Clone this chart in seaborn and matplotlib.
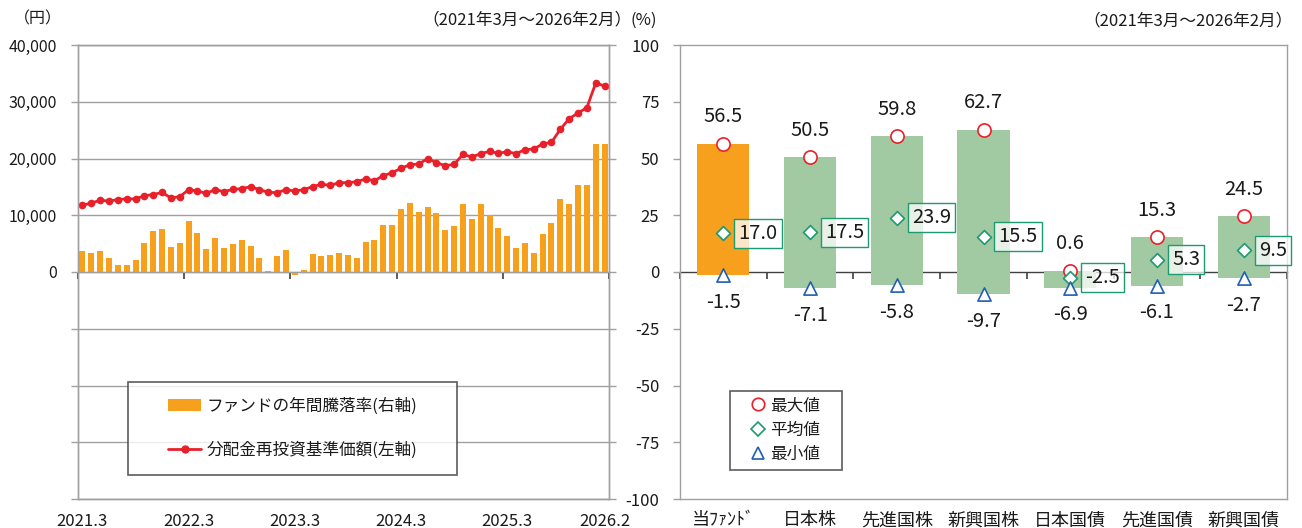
import numpy as np
import pandas as pd
import matplotlib
matplotlib.use("Agg")
import matplotlib.pyplot as plt
import seaborn as sns
from matplotlib.lines import Line2D
from matplotlib.patches import Patch
from matplotlib.ticker import FuncFormatter

# ---------------- data ----------------
months = [f"{2021 + (m + 2) // 12}.{(m + 2) % 12 + 1}" for m in range(60)]

annual_return = [9.4, 8.5, 9.4, 6.3, 3.2, 3.2, 5.4, 12.9, 18.2, 19.1,
                 11.2, 12.9, 22.6, 17.3, 10.3, 15.1, 10.7, 12.5, 14.2, 11.6,
                 6.3, 0.6, 7.2, 9.8, -1.5, 1.0, 8.1, 7.2, 7.6, 8.5,
                 7.6, 6.3, 13.4, 14.2, 20.9, 20.9, 27.9, 30.5, 26.6, 28.8,
                 26.1, 18.6, 20.4, 30.1, 23.5, 30.1, 25.3, 19.5, 16.0, 10.7,
                 12.9, 8.5, 16.9, 21.7, 32.3, 30.1, 38.5, 38.5, 56.5, 56.5]

nav = [11750, 12160, 12630, 12510, 12750, 12920, 12860, 13450, 13630, 14040,
       13040, 13280, 14510, 14270, 13860, 14510, 14160, 14570, 14680, 15040,
       14510, 14040, 13980, 14510, 14270, 14510, 15040, 15450, 15270, 15740,
       15740, 15920, 16390, 16090, 16980, 17500, 18270, 18910, 19030, 19970,
       19270, 18740, 18970, 20730, 20260, 20850, 21260, 20910, 21200, 20850,
       21560, 21670, 22560, 22850, 25140, 27020, 28020, 28960, 33300, 32780]

x_tick_labels = ["2021.3", "2022.3", "2023.3", "2024.3", "2025.3", "2026.2"]

categories = ["当ﾌｧﾝﾄﾞ", "日本株", "先進国株", "新興国株", "日本国債", "先進国債", "新興国債"]
max_vals = [56.5, 50.5, 59.8, 62.7, 0.6, 15.3, 24.5]
avg_vals = [17.0, 17.5, 23.9, 15.5, -2.5, 5.3, 9.5]
min_vals = [-1.5, -7.1, -5.8, -9.7, -6.9, -6.1, -2.7]

# ---------------- style ----------------
ORANGE = "#F6A01E"
GREEN_BAR = "#A2CAA2"
RED = "#E8202A"
RED_M = "#E8202A"
GREEN_M = "#1E9A70"
BLUE_M = "#1F5FB4"
GRAY = "#A0A0A0"
DARK = "#404040"
TXT = "#1a1a1a"

sns.set_theme(style="white", rc={"axes.edgecolor": GRAY, "axes.linewidth": 1.0,
                                 "text.color": TXT, "xtick.color": GRAY, "ytick.color": GRAY,
                                 "xtick.labelcolor": TXT, "ytick.labelcolor": TXT})
plt.rcParams['font.family'] = ['Noto Sans CJK JP', 'DejaVu Sans']
plt.rcParams['axes.unicode_minus'] = False

W, H = 1302, 528
fig = plt.figure(figsize=(W / 100, H / 100), dpi=100)
axL = fig.add_axes([78 / W, 29 / H, 531 / W, 454 / H])
axB = axL.twinx()
axR = fig.add_axes([680 / W, 29 / H, 607 / W, 454 / H])

# ---------------- left panel ----------------
df_left = pd.DataFrame({"idx": np.arange(len(months)), "month": months,
                        "ret": annual_return, "nav": nav})

sns.barplot(data=df_left, x="idx", y="ret", ax=axB, native_scale=True,
            color=ORANGE, saturation=1, width=0.68, errorbar=None, edgecolor="none")
sns.lineplot(data=df_left, x="idx", y="nav", ax=axL, color=RED, lw=2,
             marker="o", markersize=5.5, markeredgewidth=0, errorbar=None)

axL.set_zorder(axB.get_zorder() + 1)
axL.patch.set_visible(False)

axL.set_ylim(-40000, 40000)
axB.set_ylim(-100, 100)
axL.set_xlim(-0.5, len(months) - 0.5)

axL.set_yticks(np.arange(-40000, 40001, 10000))
axL.yaxis.set_major_formatter(FuncFormatter(lambda v, p: f"{int(v):,}" if v >= 0 else ""))
axL.tick_params(axis="y", which="both", left=True, length=5, width=1, pad=10, labelsize=11.5)
axB.set_yticks(np.arange(-100, 101, 25))
axB.tick_params(axis="y", right=True, length=5, width=1, labelright=False)
axB.yaxis.grid(True, color=GRAY, lw=1)
axB.set_axisbelow(True)
axL.grid(False)

label_pos = [months.index(m) for m in x_tick_labels]
axL.set_xticks(label_pos)
axL.set_xticklabels(x_tick_labels)
axL.tick_params(axis="x", length=0, pad=10, labelsize=12)
for a in (axL, axB):
    a.set_xlabel("")
    a.set_ylabel("")
    for s in a.spines.values():
        s.set_color(GRAY)

# zero line with year ticks
secL = axL.secondary_xaxis(0.5)
secL.set_alignment("bottom")
secL.set_xticks([-0.5, 11.5, 23.5, 35.5, 47.5, 59.5])
secL.tick_params(axis="x", direction="out", length=5, width=1.2, color=DARK,
                 labelbottom=False, labeltop=False)
for s in secL.spines.values():
    s.set_color(GRAY)

legL = axL.legend(handles=[Patch(facecolor=ORANGE, edgecolor="none"),
                           Line2D([], [], color=RED, lw=2, marker="o", markersize=5)],
                  labels=["ファンドの年間騰落率(右軸)", "分配金再投資基準価額(左軸)"],
                  loc="lower left", bbox_to_anchor=(0.094, 0.053, 0.62, 0.21),
                  mode="expand", alignment="center", frameon=True, fancybox=False,
                  edgecolor="#333333", fontsize=12, labelspacing=1.6, borderpad=0.95,
                  handlelength=2.0, handleheight=0.7, handletextpad=0.3, borderaxespad=0)
legL.get_frame().set_linewidth(1.2)
try:
    legL._legend_handle_box.mode = "fixed"
except Exception:
    pass

fig.text(62 / W, 1 - 19 / H, "（円）", ha="right", va="center", fontsize=11.5)
fig.text(632 / W, 1 - 20 / H, "（2021年3月～2026年2月）", ha="right", va="center", fontsize=12)
fig.text(630 / W, 1 - 20 / H, "(%)", ha="left", va="center", fontsize=12)

# ---------------- right panel ----------------
pos = np.arange(len(categories))
df_r = pd.DataFrame({"cat": categories, "pos": pos, "max": max_vals,
                     "avg": avg_vals, "min": min_vals})
bar_colors = [ORANGE] + [GREEN_BAR] * (len(categories) - 1)
axR.bar(df_r["pos"], df_r["max"] - df_r["min"], bottom=df_r["min"], width=0.6,
        color=bar_colors, edgecolor="none", zorder=2)

sns.scatterplot(data=df_r, x="pos", y="max", ax=axR, marker="o", s=90, color=RED_M,
                facecolor="white", edgecolor=RED_M, linewidth=1.2, zorder=4)
sns.scatterplot(data=df_r, x="pos", y="avg", ax=axR, marker="D", s=50, color=GREEN_M,
                facecolor="white", edgecolor=GREEN_M, linewidth=1.2, zorder=4)
sns.scatterplot(data=df_r, x="pos", y="min", ax=axR, marker="^", s=90, color=BLUE_M,
                facecolor="white", edgecolor=BLUE_M, linewidth=1.2, zorder=4)

for i, r in df_r.iterrows():
    axR.annotate(f"{r['max']:.1f}", (r["pos"], r["max"]), xytext=(0, 19.5),
                 textcoords="offset points", ha="center", va="center", fontsize=14.5, zorder=5)
    axR.annotate(f"{r['min']:.1f}", (r["pos"], r["min"]), xytext=(0, -19.5),
                 textcoords="offset points", ha="center", va="center", fontsize=14.5, zorder=5)
    axR.annotate(f"{r['avg']:.1f}", (r["pos"], r["avg"]), xytext=(10.8, 0),
                 textcoords="offset points", ha="left", va="center", fontsize=14.5, zorder=5,
                 bbox=dict(boxstyle="square,pad=0.2", fc=(1, 1, 1, 0.75), ec=GREEN_M, lw=1))

axR.set_xlim(-0.5, len(categories) - 0.5)
axR.set_ylim(-100, 100)
axR.set_yticks(np.arange(-100, 101, 25))
axR.tick_params(axis="y", left=True, length=5, width=1, pad=10, labelsize=12)
axR.set_xticks(pos)
axR.set_xticklabels(categories)
axR.tick_params(axis="x", length=0, pad=9, labelsize=13)
axR.set_xlabel("")
axR.set_ylabel("")
axR.grid(False)
for s in axR.spines.values():
    s.set_color(GRAY)

secR = axR.secondary_xaxis(0.5)
secR.set_alignment("bottom")
secR.set_xticks(np.arange(-0.5, len(categories), 1.0))
secR.tick_params(axis="x", direction="out", length=5, width=1.2, color=DARK,
                 labelbottom=False, labeltop=False)
for s in secR.spines.values():
    s.set_color(DARK)

legR = axR.legend(handles=[Line2D([], [], ls="none", marker="o", ms=9, mfc="white", mec=RED_M, mew=1.2),
                           Line2D([], [], ls="none", marker="D", ms=7, mfc="white", mec=GREEN_M, mew=1.2),
                           Line2D([], [], ls="none", marker="^", ms=9, mfc="white", mec=BLUE_M, mew=1.2)],
                  labels=["最大値", "平均値", "最小値"],
                  loc="lower left", bbox_to_anchor=(0.082, 0.064, 0.185, 0.172),
                  mode="expand", alignment="center", frameon=True, fancybox=False,
                  edgecolor="#333333", fontsize=12, labelspacing=0.45, borderpad=0.4,
                  handlelength=0.8, handletextpad=0.3, borderaxespad=0)
legR.get_frame().set_linewidth(1.2)
try:
    legR._legend_handle_box.mode = "fixed"
except Exception:
    pass

fig.text(1293 / W, 1 - 21 / H, "（2021年3月～2026年2月）", ha="right", va="center", fontsize=12)

fig.savefig("out.png", dpi=100)
